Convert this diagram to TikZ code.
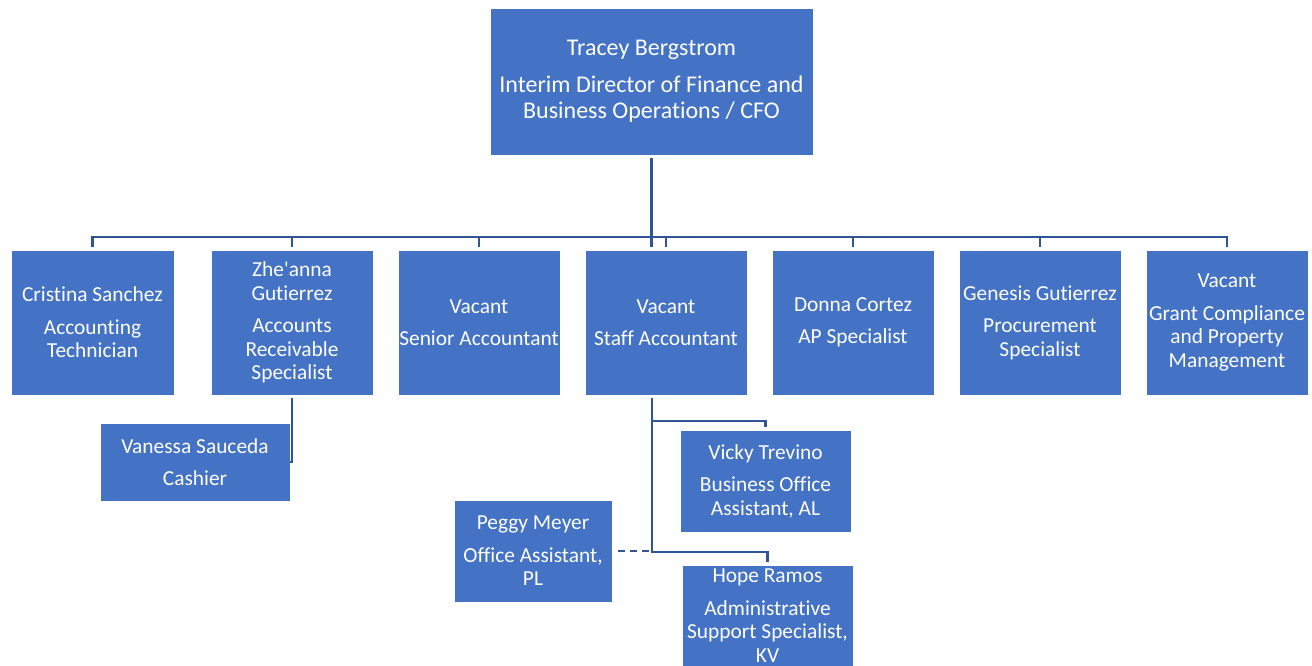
\documentclass[tikz,border=0pt]{standalone}
\usepackage{fontspec}
\setmainfont{Carlito}[Ligatures={NoCommon,TeXOff}]
\usetikzlibrary{calc}
\definecolor{boxblue}{HTML}{4472C4}
\definecolor{lineblue}{HTML}{2F5597}
\tikzset{
  orgbox/.style={fill=boxblue, draw=white, line width=0.6pt, text=white, inner sep=0pt, align=center,
    font=\fontsize{21.4}{23.5}\selectfont},
  conn/.style={draw=lineblue, line width=2.2pt},
  mainconn/.style={draw=lineblue, line width=3pt},
  dashconn/.style={draw=lineblue, line width=2pt, dash pattern=on 7pt off 5pt}
}
\begin{document}
\begin{tikzpicture}[x=1pt,y=-1pt]
\useasboundingbox (0,0) rectangle (1312,666);
% top
\node[orgbox, minimum width=323pt, minimum height=147pt, font=\fontsize{24}{26}\selectfont] (top) at (651.5,81.5)
  {Tracey Bergstrom\\[11pt]Interim Director of Finance and\\Business Operations / CFO};
% row
\node[orgbox, minimum width=163pt, minimum height=145pt] (cs) at (92.5,322.5) {Cristina Sanchez\\[9pt]Accounting\\Technician};
\node[orgbox, minimum width=162pt, minimum height=145pt] (za) at (292,322.5) {Zhe'anna\\Gutierrez\\[9pt]Accounts\\Receivable\\Specialist};
\node[orgbox, minimum width=162pt, minimum height=145pt] (sa) at (479,322.5) {Vacant\\[9pt]Senior Accountant};
\node[orgbox, minimum width=162pt, minimum height=145pt] (st) at (666,322.5) {Vacant\\[9pt]Staff Accountant};
\node[orgbox, minimum width=162pt, minimum height=145pt] (dc) at (853,322.5) {Donna Cortez\\[9pt]AP Specialist};
\node[orgbox, minimum width=162pt, minimum height=145pt] (gg) at (1040,322.5) {Genesis Gutierrez\\[9pt]Procurement\\Specialist};
\node[orgbox, minimum width=162pt, minimum height=145pt] (gc) at (1227,322.5) {Vacant\\[9pt]Grant Compliance\\and Property\\Management};
% sub boxes
\node[orgbox, minimum width=190pt, minimum height=78pt] (vs) at (195,462) {Vanessa Sauceda\\[9pt]Cashier};
\node[orgbox, minimum width=171pt, minimum height=102pt] (vt) at (765.5,481) {Vicky Trevino\\[9pt]Business Office\\Assistant, AL};
\node[orgbox, minimum width=158pt, minimum height=102pt] (pm) at (533,551) {Peggy Meyer\\[9pt]Office Assistant,\\PL};
\node[orgbox, minimum width=171pt, minimum height=101pt] (hr) at (767.5,615.5) {Hope Ramos\\[9pt]Administrative\\Support Specialist,\\KV};
% connectors
\coordinate (bus) at ($(top.south)+(0,82)$);
\draw[mainconn] ([yshift=-3pt]top.south) -- ($(bus)+(0,10)$);
\draw[conn] ($(cs.north)+(0,-13)$) -- ($(gc.north)+(0,-13)$);
\foreach \n in {cs,za,sa,st,dc,gg,gc}{
  \draw[conn] ($(\n.north)+(0,-14)$) -- ($(\n.north)+(0,-3)$);
}
\draw[conn] ([yshift=-3pt]za.south) |- (vs.east);
\coordinate (stx) at ([xshift=-14pt,yshift=-3pt]st.south);
\draw[conn] (stx) |- ($(hr.north)+(0,-13)$) -- ($(hr.north)+(0,-3)$);
\draw[conn] ([yshift=-23pt]stx) -| ($(vt.north)+(0,-3)$);
\draw[dashconn] ([xshift=6pt]pm.east) -- (stx |- pm.east);
\end{tikzpicture}
\end{document}
